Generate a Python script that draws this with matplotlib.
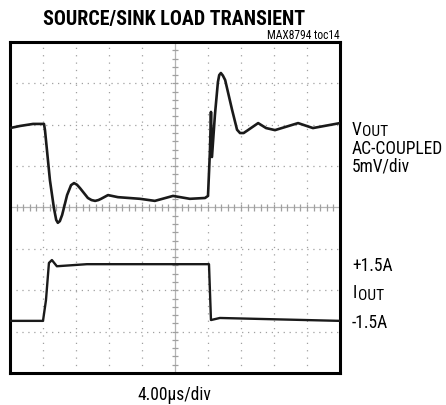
import matplotlib
matplotlib.use("Agg")
import matplotlib.pyplot as plt
import numpy as np
from matplotlib import font_manager as fm

names = {f.name for f in fm.fontManager.ttflist}
cands = ['Liberation Sans Narrow', 'Arial Narrow', 'Roboto Condensed', 'Archivo Narrow',
         'PT Sans Narrow', 'IBM Plex Sans Condensed', 'Fira Sans Condensed',
         'Open Sans Condensed', 'Encode Sans Condensed', 'Asap Condensed',
         'Barlow Semi Condensed', 'DejaVu Sans']
narrow = next(c for c in cands if c in names)
bcands = ['Roboto Condensed', 'Archivo Narrow', 'Fira Sans Extra Condensed',
          'Barlow Condensed', narrow]
bold = next(c for c in bcands if c in names)

plt.rcParams['font.family'] = [narrow, 'DejaVu Sans']

# Data (x in time divisions, y in screen divisions)
vout_t = [0, 0.30, 0.70, 1.03, 1.06, 1.21, 1.33, 1.40, 1.45, 1.51, 1.58, 1.73, 1.85, 1.94,
          2.03, 2.12, 2.36, 2.47, 2.58, 2.68, 2.76, 2.97, 3.27, 3.94, 4.39, 4.94, 5.45, 5.91,
          6.0, 6.06, 6.09, 6.12, 6.21, 6.30, 6.34, 6.39, 6.45, 6.52, 6.73, 6.88, 6.97, 7.08,
          7.21, 7.52, 7.76, 8.03, 8.73, 9.18, 10]
vout_y = [1.92, 1.97, 2.02, 2.02, 1.87, 0.66, -0.01, -0.30, -0.37, -0.33, -0.18, 0.30, 0.54,
          0.59, 0.55, 0.47, 0.23, 0.18, 0.16, 0.18, 0.21, 0.30, 0.25, 0.21, 0.16, 0.28, 0.21,
          0.23, 0.28, 1.39, 2.31, 1.22, 2.24, 3.03, 3.20, 3.25, 3.19, 3.08, 2.36, 1.88, 1.80,
          1.80, 1.87, 2.04, 1.92, 1.87, 2.04, 1.92, 2.04]
iout_t = [0, 1.0, 1.09, 1.18, 1.27, 1.42, 2.33, 6.03, 6.09, 6.36, 10]
iout_y = [-2.74, -2.74, -2.24, -1.34, -1.27, -1.42, -1.37, -1.37, -2.72, -2.67, -2.74]

W, H = 446, 405
fig = plt.figure(figsize=(W/100, H/100), dpi=100)
renderer = fig.canvas.get_renderer()
L, R, T, B = 10, 340, 42, 373
ax = fig.add_axes([L/W, 1-B/H, (R-L)/W, (B-T)/H])
ax.set_xlim(0, 10)
ax.set_ylim(-4, 4)
ax.set_xticks([]); ax.set_yticks([])
for s in ax.spines.values():
    s.set_linewidth(2.2)
    s.set_color('black')

gc = '#a0a0a0'
for xv in range(1, 10):
    if xv != 5:
        ax.axvline(xv, color=gc, lw=0.9, linestyle=(0, (1, 4.9)), zorder=1)
for yv in range(-3, 4):
    if yv != 0:
        ax.axhline(yv, color=gc, lw=0.9, linestyle=(0, (1, 3.75)), zorder=1)
ax.axvline(5, color='#b4b4b4', lw=0.9, zorder=1)
ax.axhline(0, color='#b4b4b4', lw=0.9, zorder=1)
mx = np.arange(0.2, 10, 0.2)
ax.vlines(mx, -0.08, 0.08, color='#a0a0a0', lw=0.9, zorder=1)
my = np.arange(-3.8, 4, 0.2)
ax.hlines(my, 4.91, 5.09, color='#a0a0a0', lw=0.9, zorder=1)

ax.plot(vout_t, vout_y, color='#1a1a1a', lw=1.9, zorder=3, solid_joinstyle='round')
ax.plot(iout_t, iout_y, color='#1a1a1a', lw=1.7, zorder=3, solid_joinstyle='round')


def ptext(x, y, s, ha='left', width=None, size=12, **kw):
    t = fig.text(x/W, 1-y/H, s, ha=ha, va='baseline', fontsize=size, **kw)
    if width is not None:
        w = t.get_window_extent(renderer).width
        t.set_fontsize(size*width/w)
    return t


ptext(174, 25, 'SOURCE/SINK LOAD TRANSIENT', ha='center', width=264, size=15,
      family=bold, fontweight='heavy')
ptext(340, 39, 'MAX8794 toc14', ha='right', width=73, size=6.5)

ac = ptext(352, 154, 'AC-COUPLED', width=91)
fs = ac.get_fontsize()
ptext(352, 171, '5mV/div', size=fs)
ptext(352, 271, '+1.5A', size=fs)
ptext(352, 328, '-1.5A', size=fs)
ptext(174, 400, '4.00µs/div', ha='center', size=fs)


def subtext(x, y, main, sub):
    t = ptext(x, y, main, size=fs)
    w = t.get_window_extent(renderer).width
    ptext(x + w + 0.3, y + 1.5, sub, size=fs*0.88)


subtext(352, 135, 'V', 'OUT')
subtext(353, 298, 'I', 'OUT')

fig.savefig('out.png', dpi=100)
